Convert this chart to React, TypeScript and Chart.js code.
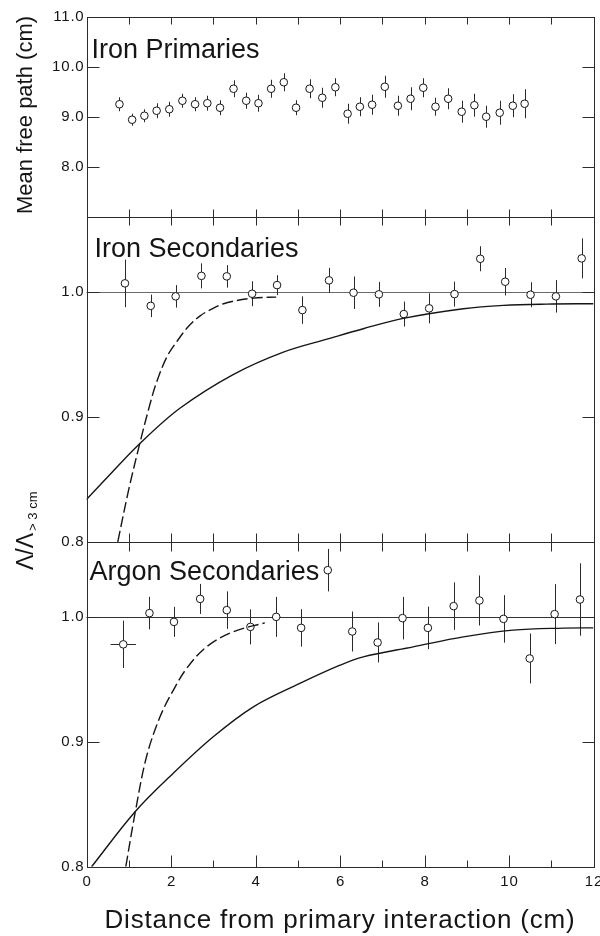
import React, { useEffect, useRef } from 'react';
import { Chart, registerables } from 'chart.js';

Chart.register(...registerables);

const FONT = '"Liberation Sans", Arial, Helvetica, sans-serif';
const INK = '#151515';

// ---- axis ticks ----
const xTickValues = [0, 1, 2, 3, 4, 5, 6, 7, 8, 9, 10, 11, 12];
const xTickLabels = ['0', '', '2', '', '4', '', '6', '', '8', '', '10', '', '12'];
const topTickValues = [8, 9, 10, 11];
const topTickLabels = ['8.0', '9.0', '10.0', '11.0'];
const lowTickValues = [0.8, 0.9, 1.0];
const lowTickLabels = ['0.8', '0.9', '1.0'];

// ---- Iron primaries: mean free path (cm) ----
const primX = [0.78, 1.08, 1.37, 1.66, 1.96, 2.27, 2.57, 2.86, 3.16, 3.48, 3.78, 4.07, 4.37, 4.67, 4.96, 5.28, 5.58, 5.89, 6.18, 6.47, 6.76, 7.06, 7.37, 7.67, 7.97, 8.26, 8.56, 8.88, 9.18, 9.46, 9.78, 10.09, 10.37];
const primY = [9.26, 8.95, 9.03, 9.13, 9.16, 9.33, 9.26, 9.28, 9.19, 9.57, 9.33, 9.28, 9.57, 9.70, 9.19, 9.57, 9.39, 9.60, 9.07, 9.21, 9.25, 9.61, 9.23, 9.37, 9.59, 9.21, 9.37, 9.11, 9.24, 9.01, 9.09, 9.23, 9.27];
const primErr = [0.14, 0.12, 0.13, 0.15, 0.15, 0.14, 0.14, 0.15, 0.15, 0.17, 0.16, 0.17, 0.18, 0.18, 0.15, 0.19, 0.2, 0.18, 0.2, 0.19, 0.2, 0.22, 0.2, 0.23, 0.19, 0.18, 0.21, 0.22, 0.23, 0.22, 0.24, 0.23, 0.29];

// ---- Iron secondaries: ratio ----
const feX = [0.91, 1.52, 2.11, 2.72, 3.32, 3.92, 4.51, 5.11, 5.74, 6.32, 6.92, 7.51, 8.11, 8.71, 9.32, 9.91, 10.51, 11.11, 11.72];
const feY = [1.007, 0.989, 0.9966, 1.013, 1.0126, 0.9987, 1.0056, 0.9856, 1.0094, 0.9995, 0.9982, 0.9824, 0.987, 0.9984, 1.0267, 1.0083, 0.9979, 0.9966, 1.027];
const feErr = [0.019, 0.009, 0.009, 0.010, 0.009, 0.010, 0.008, 0.011, 0.010, 0.013, 0.010, 0.010, 0.012, 0.010, 0.010, 0.011, 0.010, 0.013, 0.016];
const feDashX = [0.74, 1.0, 1.27, 1.5, 1.66, 1.9, 2.13, 2.4, 2.69, 3.0, 3.32, 3.95, 4.49];
const feDashY = [0.8, 0.842, 0.88, 0.91, 0.928, 0.948, 0.96, 0.972, 0.981, 0.987, 0.9915, 0.9952, 0.996];
const feSolidX = [0, 0.5, 1.27, 2.21, 3.47, 4.66, 5.76, 6.55, 7.5, 8.92, 9.87, 10.89, 12];
const feSolidY = [0.834, 0.852, 0.879, 0.907, 0.934, 0.952, 0.963, 0.9707, 0.979, 0.9867, 0.9894, 0.9904, 0.9907];

// ---- Argon secondaries: ratio ----
const arX = [0.87, 1.49, 2.07, 2.69, 3.32, 3.88, 4.49, 5.08, 5.71, 6.29, 6.89, 7.48, 8.08, 8.69, 9.30, 9.87, 10.49, 11.08, 11.68];
const arY = [0.978, 1.003, 0.996, 1.0144, 1.0054, 0.992, 1.0, 0.9912, 1.0374, 0.9883, 0.9795, 0.999, 0.9912, 1.0086, 1.0131, 0.9984, 0.9667, 1.0022, 1.0139];
const arErr = [0.019, 0.013, 0.012, 0.012, 0.015, 0.014, 0.016, 0.015, 0.017, 0.016, 0.016, 0.017, 0.017, 0.019, 0.020, 0.019, 0.020, 0.024, 0.029];
const arXErr = [0.3, 0, 0, 0, 0, 0, 0, 0, 0, 0, 0, 0, 0, 0, 0, 0, 0, 0, 0];
const arDashX = [0.93, 1.15, 1.42, 1.74, 2.05, 2.37, 2.84, 3.47, 4.22];
const arDashY = [0.8, 0.843, 0.888, 0.92, 0.941, 0.9587, 0.976, 0.988, 0.9952];
const arSolidX = [0.12, 1.15, 2.05, 3.0, 3.95, 5.05, 6.0, 6.55, 7.73, 8.92, 10.1, 11.29, 12];
const arSolidY = [0.8, 0.844, 0.8747, 0.904, 0.928, 0.9467, 0.9613, 0.968, 0.976, 0.984, 0.9894, 0.991, 0.9912];

const pts = (xs: number[], ys: number[]) => xs.map((x, i) => ({ x, y: ys[i] }));

const scatterStyle = {
  type: 'scatter' as const,
  pointRadius: 3.8,
  pointBorderWidth: 1,
  pointBorderColor: INK,
  pointBackgroundColor: '#ffffff',
  borderColor: INK,
  backgroundColor: '#ffffff',
  showLine: false,
};

const lineStyle = (dashed: boolean) => ({
  type: 'line' as const,
  borderColor: INK,
  borderWidth: 1.4,
  borderDash: dashed ? [11, 4] : [],
  pointRadius: 0,
  fill: false,
  tension: 0.35,
});

const cr = (v: number) => Math.round(v) + 0.5;

const framePlugin = {
  id: 'framePanels',
  beforeDatasetsDraw(chart: any) {
    const { ctx } = chart;
    const xs = chart.scales.x;
    const L = xs.left, R = xs.right;
    ctx.save();
    // reference lines at 1.0
    const refs: [string, string][] = [['yMid', '#6a6a6a'], ['yBot', '#333333']];
    refs.forEach(([id, col]) => {
      const y = cr(chart.scales[id].getPixelForValue(1.0));
      ctx.strokeStyle = col;
      ctx.lineWidth = 1;
      ctx.beginPath();
      ctx.moveTo(L, y);
      ctx.lineTo(R, y);
      ctx.stroke();
    });
    // error bars
    chart.data.datasets.forEach((ds: any) => {
      if (!ds.errY) return;
      const ys = chart.scales[ds.yAxisID];
      ctx.strokeStyle = '#2a2a2a';
      ctx.lineWidth = 1;
      ds.data.forEach((p: any, j: number) => {
        const px = cr(xs.getPixelForValue(p.x));
        const e = ds.errY[j];
        ctx.beginPath();
        ctx.moveTo(px, ys.getPixelForValue(p.y + e));
        ctx.lineTo(px, ys.getPixelForValue(p.y - e));
        ctx.stroke();
        const ex = ds.errX ? ds.errX[j] : 0;
        if (ex) {
          const py = cr(ys.getPixelForValue(p.y));
          ctx.beginPath();
          ctx.moveTo(xs.getPixelForValue(p.x - ex), py);
          ctx.lineTo(xs.getPixelForValue(p.x + ex), py);
          ctx.stroke();
        }
      });
    });
    ctx.restore();
  },
  afterDatasetsDraw(chart: any) {
    const { ctx } = chart;
    const xs = chart.scales.x;
    const yT = chart.scales.yTop, yM = chart.scales.yMid, yB = chart.scales.yBot;
    const L = cr(xs.left), R = cr(xs.right), T = cr(yT.top), B = cr(yB.bottom);
    const s1 = cr(yM.top), s2 = cr(yB.top);
    ctx.save();
    ctx.strokeStyle = '#2c2c2c';
    ctx.lineWidth = 1;
    const hline = (y: number, x0: number, x1: number) => {
      ctx.beginPath(); ctx.moveTo(x0, y); ctx.lineTo(x1, y); ctx.stroke();
    };
    const vline = (x: number, y0: number, y1: number) => {
      ctx.beginPath(); ctx.moveTo(x, y0); ctx.lineTo(x, y1); ctx.stroke();
    };
    ctx.strokeRect(L, T, R - L, B - T);
    hline(s1, L, R);
    hline(s2, L, R);

    // x ticks
    xTickValues.forEach((v, i) => {
      if (v <= 0 || v >= 12) return;
      const px = cr(xs.getPixelForValue(v));
      vline(px, T, T + 7);
      vline(px, s1 - 8, s1 + 8);
      vline(px, s2 - 9, s2 + 9);
      vline(px, B, B - (xTickLabels[i] ? 12 : 7));
    });

    // y ticks
    const panels: [any, number[], string[]][] = [
      [yT, topTickValues, topTickLabels],
      [yM, lowTickValues, lowTickLabels],
      [yB, lowTickValues, lowTickLabels],
    ];
    panels.forEach(([sc, vals]) => {
      vals.forEach((v: number) => {
        const py = cr(sc.getPixelForValue(v));
        if (Math.abs(py - sc.top) < 2 || Math.abs(py - sc.bottom) < 2) return;
        hline(py, L, L + 12);
        hline(py, R - 12, R);
      });
    });

    // tick labels
    ctx.fillStyle = INK;
    ctx.font = `15px ${FONT}`;
    (ctx as any).letterSpacing = '0.8px';
    ctx.textAlign = 'right';
    ctx.textBaseline = 'middle';
    panels.forEach(([sc, vals, labels]) => {
      vals.forEach((v: number, i: number) => {
        ctx.fillText(labels[i], L - 3, sc.getPixelForValue(v));
      });
    });
    ctx.textAlign = 'center';
    ctx.textBaseline = 'top';
    xTickValues.forEach((v, i) => {
      if (!xTickLabels[i]) return;
      ctx.fillText(xTickLabels[i], xs.getPixelForValue(v) + 0.5, B + 7);
    });
    (ctx as any).letterSpacing = '0px';

    // panel titles
    ctx.textAlign = 'left';
    ctx.textBaseline = 'alphabetic';
    ctx.font = `27px ${FONT}`;
    ctx.fillText('Iron Primaries', xs.left + 5, yT.top + 41);
    ctx.fillText('Iron Secondaries', xs.left + 8, yM.top + 39.4);
    ctx.fillText('Argon Secondaries', xs.left + 3, yB.top + 38.3);

    // x axis title
    ctx.textAlign = 'center';
    ctx.font = `26px ${FONT}`;
    (ctx as any).letterSpacing = '0.8px';
    ctx.fillText('Distance from primary interaction (cm)', (xs.left + xs.right) / 2, B + 60);
    (ctx as any).letterSpacing = '0px';

    // y axis titles
    ctx.save();
    ctx.translate(32, 115);
    ctx.rotate(-Math.PI / 2);
    ctx.font = `22px ${FONT}`;
    ctx.textAlign = 'center';
    ctx.fillText('Mean free path (cm)', 0, 0);
    ctx.restore();

    ctx.save();
    ctx.translate(33, 570);
    ctx.rotate(-Math.PI / 2);
    ctx.font = `23px ${FONT}`;
    ctx.textAlign = 'left';
    const main = 'Λ/Λ';
    ctx.fillText(main, 0, 0);
    const w = ctx.measureText(main).width;
    ctx.font = `13px ${FONT}`;
    ctx.fillText('> 3 cm', w + 2, 4);
    ctx.restore();

    ctx.restore();
  },
};

export default function App() {
  const ref = useRef<HTMLCanvasElement>(null);
  useEffect(() => {
    if (!ref.current) return;
    const chart = new Chart(ref.current, {
      type: 'scatter',
      data: {
        datasets: [
          { ...lineStyle(true), data: pts(feDashX, feDashY), yAxisID: 'yMid' },
          { ...lineStyle(false), data: pts(feSolidX, feSolidY), yAxisID: 'yMid' },
          { ...lineStyle(true), data: pts(arDashX, arDashY), yAxisID: 'yBot' },
          { ...lineStyle(false), data: pts(arSolidX, arSolidY), yAxisID: 'yBot' },
          { ...scatterStyle, data: pts(primX, primY), yAxisID: 'yTop', errY: primErr } as any,
          { ...scatterStyle, data: pts(feX, feY), yAxisID: 'yMid', errY: feErr } as any,
          { ...scatterStyle, data: pts(arX, arY), yAxisID: 'yBot', errY: arErr, errX: arXErr } as any,
        ],
      },
      options: {
        animation: false,
        responsive: false,
        events: [],
        layout: { padding: { left: 86.5, right: 6.5, top: 17.3, bottom: 69.3 } },
        plugins: { legend: { display: false }, tooltip: { enabled: false } },
        scales: {
          x: { type: 'linear', min: 0, max: 12, display: false },
          yTop: { type: 'linear', position: 'left', min: 7, max: 11, display: false, stack: 'panels', stackWeight: 200, weight: 3 },
          yMid: { type: 'linear', position: 'left', min: 0.8, max: 1.06, display: false, stack: 'panels', stackWeight: 325, weight: 2 },
          yBot: { type: 'linear', position: 'left', min: 0.8, max: 1.06, display: false, stack: 'panels', stackWeight: 325, weight: 1 },
        },
      } as any,
      plugins: [framePlugin],
    });
    return () => chart.destroy();
  }, []);
  return (
    <div style={{ position: 'absolute', left: 0, top: 0, width: 600, height: 936, background: '#ffffff' }}>
      <canvas ref={ref} width={600} height={936} style={{ display: 'block', width: 600, height: 936 }} />
    </div>
  );
}
